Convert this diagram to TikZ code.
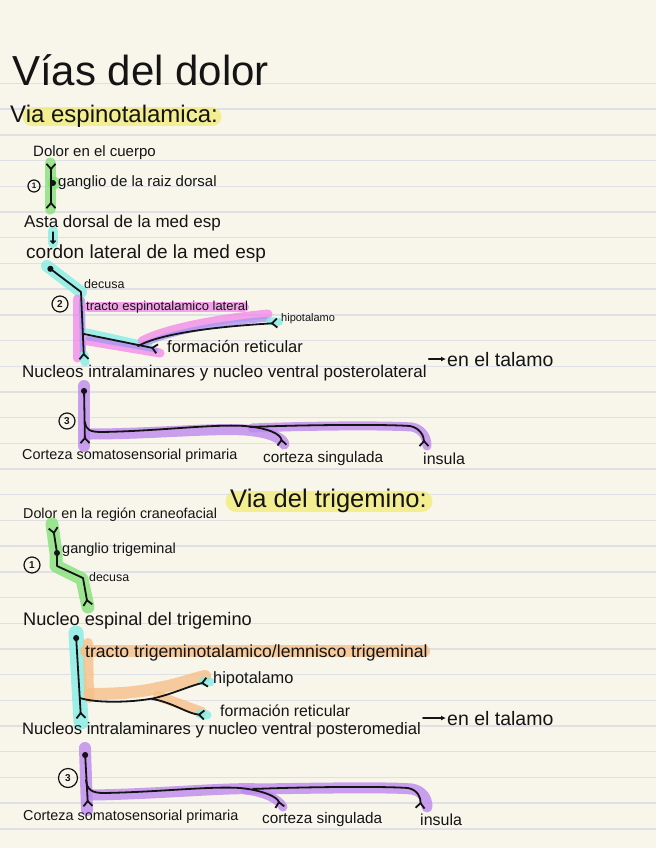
\documentclass[tikz,border=0pt]{standalone}
\usepackage{fontspec}
\setmainfont{Liberation Sans}
\usetikzlibrary{arrows.meta, positioning}
\definecolor{paper}{HTML}{F8F6EB}
\definecolor{ruling}{HTML}{DEE0E6}
\definecolor{inkblack}{HTML}{141414}
\definecolor{yellowmark}{HTML}{F3EC7E}
\definecolor{greenmark}{HTML}{86E07A}
\definecolor{cyanmark}{HTML}{84EEE6}
\definecolor{pinkmark}{HTML}{F28CE8}
\definecolor{violetmark}{HTML}{A996F2}
\definecolor{purplemark}{HTML}{BE88EE}
\definecolor{orangemark}{HTML}{F6C089}
\newcommand{\handsize}[1]{\fontsize{#1}{#1}\selectfont}

\begin{document}
\begin{tikzpicture}[
        x=1pt, y=-1pt,
        notetext/.style={anchor=base west, inner sep=0pt, text=inkblack},
        nerve/.style={draw=inkblack, line width=1.8pt, line cap=round, line join=round},
        forktip/.tip={Straight Barb[reversed, length=5pt, width=9pt]},
        nervedot/.style={circle, fill=inkblack, inner sep=0pt, minimum size=6pt},
        highlight/.style={line width=#1, line cap=round, line join=round, opacity=0.8},
        highlight/.default=12pt,
        circlednum/.style={circle, draw=inkblack, line width=1.2pt, inner sep=0pt,
            minimum size=16pt, text=inkblack, font=\bfseries\handsize{10}},
        ruleline/.style={draw=ruling, line width=1.4pt}
    ]
        % paper and ruling
        \useasboundingbox (0,0) rectangle (656,848);
        \fill[paper] (0,0) rectangle (656,848);
        \foreach \k in {0,...,29}
            \draw[ruleline] (0,{83.5+25.7*\k}) -- (656,{83.5+25.7*\k});

        % highlighter marks
        \draw[highlight=19pt, yellowmark] (32,117) -- (212,117);
        \draw[highlight=11pt, greenmark] (50,163) -- (50,209);
        \fill[greenmark, opacity=0.8] (54,183) circle (6.5pt);
        \draw[highlight=10pt, cyanmark] (53,231) -- (53,243);
        \draw[highlight=12pt, cyanmark] (47,266) -- (81,292);
        \draw[highlight=9pt, pinkmark] (77,299) -- (77,358);
        \draw[highlight=6pt, violetmark] (82,300) -- (83,356);
        \draw[highlight=9pt, cyanmark] (84,355) -- (85,362);
        \draw[highlight=10pt, pinkmark] (88,307) -- (244,307);
        \draw[highlight=9pt, pinkmark] (88,341) -- (160,353);
        \draw[highlight=5pt, violetmark] (88,338) -- (156,350);
        \draw[highlight=5pt, cyanmark] (87,331) -- (150,345);
        \draw[highlight=9pt, pinkmark] (142,341) .. controls (165,329) and (215,319) .. (268,314);
        \draw[highlight=5pt, violetmark] (145,344) .. controls (168,333) and (215,324) .. (268,319);
        \draw[highlight=8pt, cyanmark] (270,321) -- (279,322);
        \draw[highlight=12pt, purplemark] (84,386) -- (84,446);
        \draw[highlight=11pt, purplemark] (90,434) .. controls (150,434) and (210,428) .. (245,430)
            .. controls (270,432) and (282,438) .. (284,444);
        \draw[highlight=9pt, purplemark] (252,428) .. controls (300,426) and (380,425) .. (412,427)
            .. controls (422,429) and (427,437) .. (427,446);

        \draw[highlight=21pt, yellowmark] (236,501) -- (422,501);
        \draw[highlight=13pt, greenmark] (52,524) -- (56,553) -- (56,566) -- (82,579) -- (88,607);
        \draw[highlight=15pt, cyanmark] (76,633) -- (81,722);
        \draw[highlight=12pt, orangemark] (86,651) -- (424,651);
        \draw[highlight=10pt, orangemark] (88,643) -- (89,698);
        \draw[highlight=12pt, orangemark] (90,694) .. controls (120,694) and (140,692) .. (158,688)
            .. controls (180,684) and (195,678) .. (205,676);
        \draw[highlight=10pt, orangemark] (158,696) -- (202,712);
        \draw[highlight=9pt, cyanmark] (203,681) -- (210,682);
        \draw[highlight=9pt, cyanmark] (200,714) -- (207,715);
        \draw[highlight=12pt, purplemark] (85,748) -- (87,810);
        \draw[highlight=11pt, purplemark] (92,795) .. controls (160,794) and (230,787) .. (260,789)
            .. controls (320,788) and (390,787) .. (412,789)
            .. controls (422,791) and (427,798) .. (427,807);
        \draw[highlight=9pt, purplemark] (245,790) .. controls (264,792) and (279,799) .. (283,807);

        % titles
        \node[notetext, font=\handsize{42}] (title) at (12,86) {Vías del dolor};
        \node[notetext, font=\handsize{24}] (espinotitle) at (10,123) {Via espinotalamica:};

        % via espinotalamica
        \node[notetext, font=\handsize{15}] (dolorcuerpo) at (33,157) {Dolor en el cuerpo};
        \node[circlednum, minimum size=12pt, font=\bfseries\handsize{8}] (numone) at (34,186) {1};
        \coordinate (gangtop) at (51,163);
        \coordinate (gangbot) at (51,209);
        \draw[nerve, forktip-forktip] (gangtop) -- (gangbot);
        \node[nervedot] (gangdot) at (53,183) {};
        \node[notetext, font=\handsize{15}] (ganglioraiz) at (58,186) {ganglio de la raiz dorsal};
        \node[notetext, font=\handsize{17}] (astadorsal) at (24,227) {Asta dorsal de la med esp};
        \coordinate (astaarrowtop) at (53,232);
        \coordinate (astaarrowbot) at (53,244);
        \draw[nerve, line width=1.3pt, -{Straight Barb[length=2.5pt, width=5pt]}]
            (astaarrowtop) -- (astaarrowbot);
        \node[notetext, font=\handsize{19}] (cordonlateral) at (26,258) {cordon lateral de la med esp};

        \coordinate (lateralstart) at (48,267);
        \coordinate (decusapoint) at (81,292);
        \coordinate (lateralend) at (84,360);
        \draw[nerve, {Circle[length=6pt]}-forktip] (lateralstart) -- (decusapoint) -- (lateralend);
        \node[notetext, font=\handsize{12.5}] (decusaone) at (84,288) {decusa};
        \node[circlednum] (numtwo) at (60,304) {2};
        \node[notetext, font=\handsize{13}] (tractoone) at (86,310) {tracto espinotalamico lateral};
        \coordinate (branchone) at (84,334);
        \coordinate (reticendone) at (158,349);
        \coordinate (splitone) at (138,346);
        \coordinate (hipoendone) at (278,323);
        \draw[nerve, -forktip] (branchone) -- (reticendone);
        \draw[nerve, -forktip] (splitone) .. controls (160,334) and (210,327) .. (hipoendone);
        \node[notetext, font=\handsize{11}] (hipolabelone) at (281,321) {hipotalamo};
        \node[notetext, font=\handsize{16.5}] (reticlabelone) at (167,352) {formación reticular};
        \node[notetext, font=\handsize{17}] (nucleosone) at (22,377)
            {Nucleos intralaminares y nucleo ventral posterolateral};
        \node[notetext, font=\handsize{19.5}] (talamoone) at (447,366) {en el talamo};
        \draw[nerve, -{Latex[length=5pt, width=5pt]}, shorten <=2pt, shorten >=1pt]
            (talamoone.west -| nucleosone.east) -- (talamoone.west);

        \coordinate (cortexstartone) at (84,388);
        \coordinate (cortexendone) at (85,444);
        \draw[nerve, {Circle[length=6pt]}-forktip] (cortexstartone) -- (cortexendone);
        \node[circlednum] (numthree) at (67,421) {3};
        \coordinate (cortexturnone) at (85,422);
        \coordinate (cortexforkone) at (250,427);
        \coordinate (singendone) at (282,446);
        \coordinate (insulaendone) at (424,447);
        \draw[nerve, -forktip] (cortexturnone) .. controls (86,430) and (90,432) .. (102,432)
            .. controls (160,431) and (210,424) .. (245,426)
            .. controls (268,428) and (281,434) .. (singendone);
        \draw[nerve, -forktip] (cortexforkone) .. controls (300,425) and (380,424) .. (410,426)
            .. controls (420,428) and (424,436) .. (insulaendone);
        \node[notetext, font=\handsize{14.4}] (cortprimone) at (22,459) {Corteza somatosensorial primaria};
        \node[notetext, font=\handsize{15.3}] (singlabelone) at (263,462) {corteza singulada};
        \node[notetext, font=\handsize{16}] (insulalabelone) at (423,464) {insula};

        % via del trigemino
        \node[notetext, font=\handsize{25.5}] (trigtitle) at (230,507) {Via del trigemino:};
        \node[notetext, font=\handsize{14.3}] (dolorcraneo) at (23,518) {Dolor en la región craneofacial};
        \node[circlednum] (numtrigone) at (32,565) {1};
        \coordinate (trigtop) at (53,527);
        \node[nervedot] (triggangdot) at (57,553) {};
        \coordinate (trigbend) at (57,566);
        \coordinate (trigcross) at (83,578);
        \coordinate (trigend) at (88,606);
        \draw[nerve, forktip-forktip] (trigtop) -- (triggangdot.center) -- (trigbend) -- (trigcross) -- (trigend);
        \node[notetext, font=\handsize{14.5}] (gangliotrig) at (62,553) {ganglio trigeminal};
        \node[notetext, font=\handsize{12.4}] (decusatwo) at (89,581) {decusa};
        \node[notetext, font=\handsize{18.2}] (nucleoespinal) at (23,625) {Nucleo espinal del trigemino};

        \coordinate (espinalstart) at (76,635);
        \coordinate (espinalend) at (81,719);
        \draw[nerve, {Circle[length=6pt]}-forktip] (espinalstart) -- (espinalend);
        \node[notetext, font=\handsize{17.6}] (tractotwo) at (85,657) {tracto trigeminotalamico/lemnisco trigeminal};
        \coordinate (branchtwo) at (80,698);
        \coordinate (splittwo) at (152,699);
        \coordinate (hipoendtwo) at (208,682);
        \coordinate (reticendtwo) at (205,715);
        \draw[nerve, -forktip] (branchtwo) .. controls (95,703) and (130,703) .. (155,698)
            .. controls (175,693) and (192,685) .. (hipoendtwo);
        \draw[nerve, -forktip] (splittwo) .. controls (172,702) and (188,714) .. (reticendtwo);
        \node[notetext, font=\handsize{16.4}] (hipolabeltwo) at (213,683) {hipotalamo};
        \node[notetext, font=\handsize{15.8}] (reticlabeltwo) at (220,716) {formación reticular};
        \node[notetext, font=\handsize{16.6}] (nucleostwo) at (22,734)
            {Nucleos intralaminares y nucleo ventral posteromedial};
        \node[notetext, font=\handsize{19.5}] (talamotwo) at (447,725) {en el talamo};
        \draw[nerve, -{Latex[length=5pt, width=5pt]}, shorten <=2pt, shorten >=1pt]
            (talamotwo.west -| nucleostwo.east) -- (talamotwo.west);

        \coordinate (cortexstarttwo) at (85,752);
        \coordinate (cortexendtwo) at (88,807);
        \draw[nerve, {Circle[length=6pt]}-forktip] (cortexstarttwo) -- (cortexendtwo);
        \node[circlednum, minimum height=19pt] (numtrigthree) at (68,778) {3};
        \coordinate (cortexturntwo) at (86,780);
        \coordinate (cortexforktwo) at (253,789);
        \coordinate (singendtwo) at (280,808);
        \coordinate (insulaendtwo) at (420,809);
        \draw[nerve, -forktip] (cortexturntwo) .. controls (87,790) and (92,793) .. (104,793)
            .. controls (160,792) and (210,786) .. (240,788)
            .. controls (262,790) and (278,797) .. (singendtwo);
        \draw[nerve, -forktip] (cortexforktwo) .. controls (300,787) and (380,786) .. (408,788)
            .. controls (418,790) and (421,798) .. (insulaendtwo);
        \node[notetext, font=\handsize{14.4}] (cortprimtwo) at (23,820) {Corteza somatosensorial primaria};
        \node[notetext, font=\handsize{15.3}] (singlabeltwo) at (262,823) {corteza singulada};
        \node[notetext, font=\handsize{16}] (insulalabeltwo) at (420,825) {insula};
    \end{tikzpicture}
\end{document}
